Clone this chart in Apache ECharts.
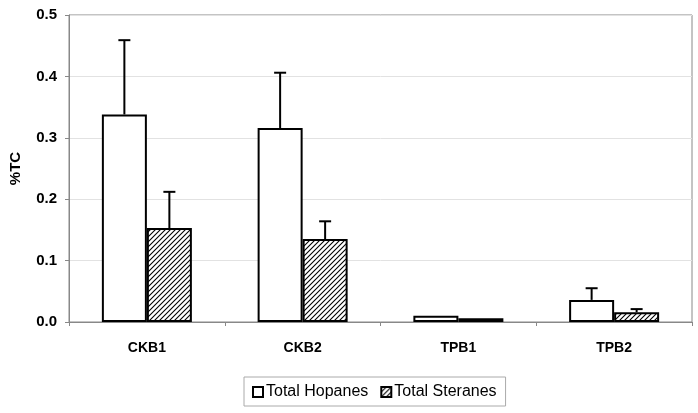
<!DOCTYPE html>
<html>
<head>
<meta charset="utf-8">
<script src="https://cdn.jsdelivr.net/npm/echarts@6/dist/echarts.min.js"></script>
<style>html,body{margin:0;padding:0;background:#fff}#c{width:698px;height:413px}</style>
</head>
<body>
<div id="c"></div>
<script>
var categories = ['CKB1', 'CKB2', 'TPB1', 'TPB2'];
var hopanes = [0.338, 0.316, 0.010, 0.036];
var hopanesErr = [0.121, 0.090, 0, 0.019];
var steranes = [0.153, 0.135, 0.006, 0.016];
var steranesErr = [0.059, 0.029, 0, 0.005];
var yTicks = [0, 0.1, 0.2, 0.3, 0.4, 0.5];

function hatch() {
  var s = 5, c = document.createElement('canvas');
  c.width = s; c.height = s;
  var g = c.getContext('2d');
  g.fillStyle = '#fff'; g.fillRect(0, 0, s, s);
  g.strokeStyle = '#000'; g.lineWidth = 1.1;
  g.beginPath();
  g.moveTo(-1, s + 1); g.lineTo(s + 1, -1);
  g.moveTo(-1, 1); g.lineTo(1, -1);
  g.moveTo(s - 1, s + 1); g.lineTo(s + 1, s - 1);
  g.stroke();
  return c;
}
var hatchPattern = { image: hatch(), repeat: 'repeat' };

var chart = echarts.init(document.getElementById('c'), null, { renderer: 'canvas' });
var BW = 45;
var FONT = 'Liberation Sans, Arial, sans-serif';

function errSeries(vals, errs, offset) {
  return {
    type: 'custom',
    name: 'err',
    silent: true,
    z: 5,
    data: vals.map(function (v, i) { return [i, v, v + errs[i]]; }),
    renderItem: function (params, api) {
      var i = api.value(0);
      if (api.value(2) - api.value(1) <= 0) return null;
      var p0 = api.coord([i, api.value(1)]);
      var p1 = api.coord([i, api.value(2)]);
      var x = p0[0] + offset;
      var st = { stroke: '#000', lineWidth: 2 };
      return {
        type: 'group',
        children: [
          { type: 'line', shape: { x1: x, y1: p0[1], x2: x, y2: p1[1] }, style: st },
          { type: 'line', shape: { x1: x - 6, y1: p1[1], x2: x + 6, y2: p1[1] }, style: st }
        ]
      };
    }
  };
}

chart.setOption({
  animation: false,
  textStyle: { fontFamily: FONT, color: '#000' },
  grid: { left: 67, right: 6, top: 15, bottom: 91, show: true, borderColor: '#888', borderWidth: 1 },
  legend: {
    top: 377,
    left: 244,
    data: ['Total Hopanes', 'Total Steranes'],
    itemWidth: 10, itemHeight: 10, itemGap: 12,
    borderColor: '#aaa', borderWidth: 1, padding: [7, 9, 6, 8],
    textStyle: { fontSize: 16, color: '#000', fontFamily: FONT, padding: [0, 0, 0, -2] },
    icon: 'rect'
  },
  xAxis: {
    type: 'category',
    data: categories,
    axisLine: { lineStyle: { color: '#888', width: 1 } },
    axisTick: { show: true, length: 4, lineStyle: { color: '#888' } },
    axisLabel: { fontWeight: 'bold', fontSize: 14, color: '#000', margin: 19, fontFamily: FONT }
  },
  yAxis: {
    type: 'value',
    min: 0, max: 0.5, interval: 0.1,
    name: '%TC',
    nameLocation: 'middle',
    nameGap: 46,
    nameRotate: 90,
    nameTextStyle: { fontWeight: 'bold', fontSize: 15, color: '#000', fontFamily: FONT },
    axisLine: { show: true, lineStyle: { color: '#888', width: 1 } },
    axisTick: { show: true, length: 4, lineStyle: { color: '#888' } },
    axisLabel: { fontWeight: 'bold', fontSize: 15, color: '#000', margin: 12, fontFamily: FONT,
      formatter: function (v) { return v.toFixed(1); } },
    splitLine: { lineStyle: { color: '#e2e2e2', width: 1 } }
  },
  series: [
    {
      type: 'bar', name: 'Total Hopanes', data: hopanes,
      barWidth: BW, barGap: '0%',
      itemStyle: { color: '#fff', borderColor: '#000', borderWidth: 2 }
    },
    {
      type: 'bar', name: 'Total Steranes', data: steranes,
      barWidth: BW, barGap: '0%',
      itemStyle: { color: hatchPattern, borderColor: '#000', borderWidth: 2 }
    },
    errSeries(hopanes, hopanesErr, -BW / 2),
    errSeries(steranes, steranesErr, BW / 2)
  ]
});
</script>
</body>
</html>
